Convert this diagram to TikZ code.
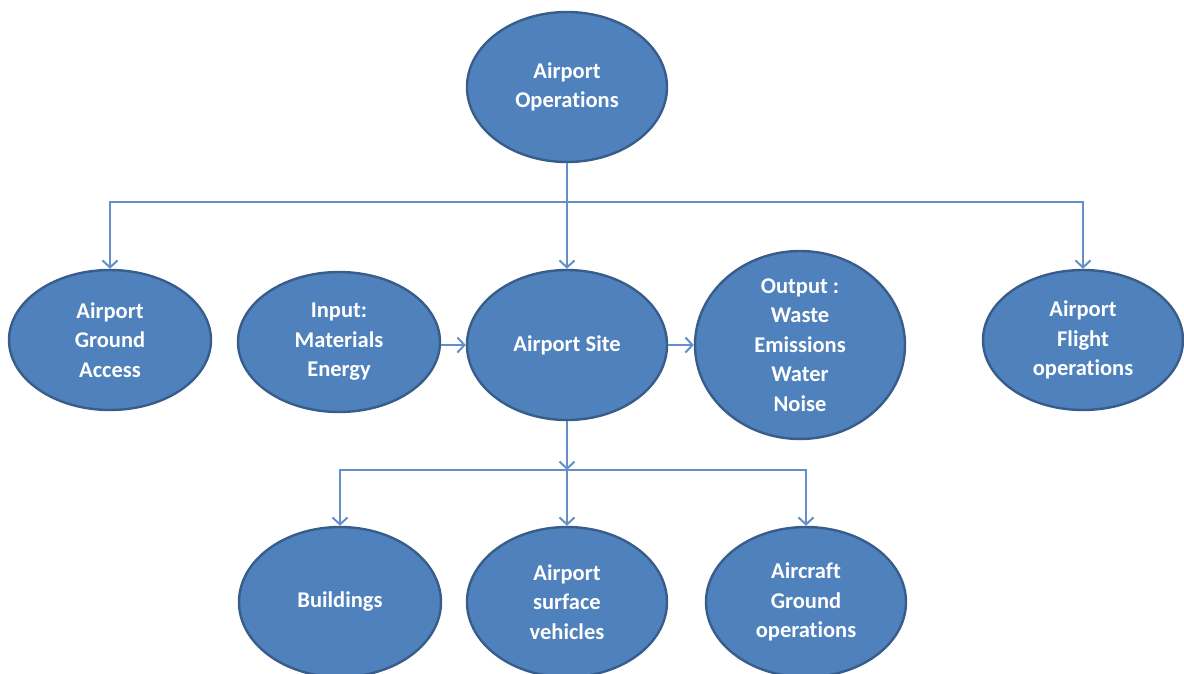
\documentclass[tikz,border=0pt]{standalone}
\usepackage{fontspec}
\setmainfont{Carlito}[Ligatures=NoCommon]
\usetikzlibrary{shapes.geometric,arrows.meta}
\definecolor{nodefill}{HTML}{4F81BD}
\definecolor{nodeline}{HTML}{385D8A}
\definecolor{conn}{HTML}{6490C8}
\tikzset{
  bubble/.style={ellipse, draw=nodeline, line width=2.4pt, fill=nodefill, text=white,
    inner sep=0pt, align=center, font=\bfseries\fontsize{22.5}{29.5}\selectfont},
  link/.style={draw=conn, line width=2.8pt, -{Straight Barb[length=7pt,width=15pt,line width=2pt]}}
}
\begin{document}
\begin{tikzpicture}[x=1pt,y=-1pt]
\useasboundingbox (0,0) rectangle (1184,673);
\node[bubble, minimum width=200pt, minimum height=150pt] (ops) at (567,87) {Airport\\Operations};
\node[bubble, minimum width=202pt, minimum height=140pt] (ga) at (110,340) {Airport\\Ground\\Access};
\node[bubble, minimum width=202pt, minimum height=140pt] (inp) at (339,342) {Input:\\Materials\\Energy};
\node[bubble, minimum width=200pt, minimum height=150pt] (site) at (567,345) {Airport Site};
\node[bubble, minimum width=210pt, minimum height=166pt] (out) at (800,345) {Output :\\Waste\\Emissions\\Water\\Noise};
\node[bubble, minimum width=200pt, minimum height=140pt] (fl) at (1083,340) {Airport\\Flight\\operations};
\node[bubble, minimum width=202pt, minimum height=150pt] (bld) at (340,602) {Buildings};
\node[bubble, minimum width=200pt, minimum height=150pt] (veh) at (567,602) {Airport\\surface\\vehicles};
\node[bubble, minimum width=200pt, minimum height=150pt] (acg) at (806,602) {Aircraft\\Ground\\operations};
\coordinate (j1) at (567,202);
\coordinate (j2) at (567,470);
\draw[link] (ops.south) -- (site.north);
\draw[link] (j1) -| (ga.north);
\draw[link] (j1) -| (fl.north);
\draw[link] (inp.east |- site.west) -- (site.west);
\draw[link] (site.east) -- (out.west);
\draw[link] (site.south) -- (j2);
\draw[link] (j2) -| (bld.north);
\draw[link] (j2) -- (veh.north);
\draw[link] (j2) -| (acg.north);
\end{tikzpicture}
\end{document}
